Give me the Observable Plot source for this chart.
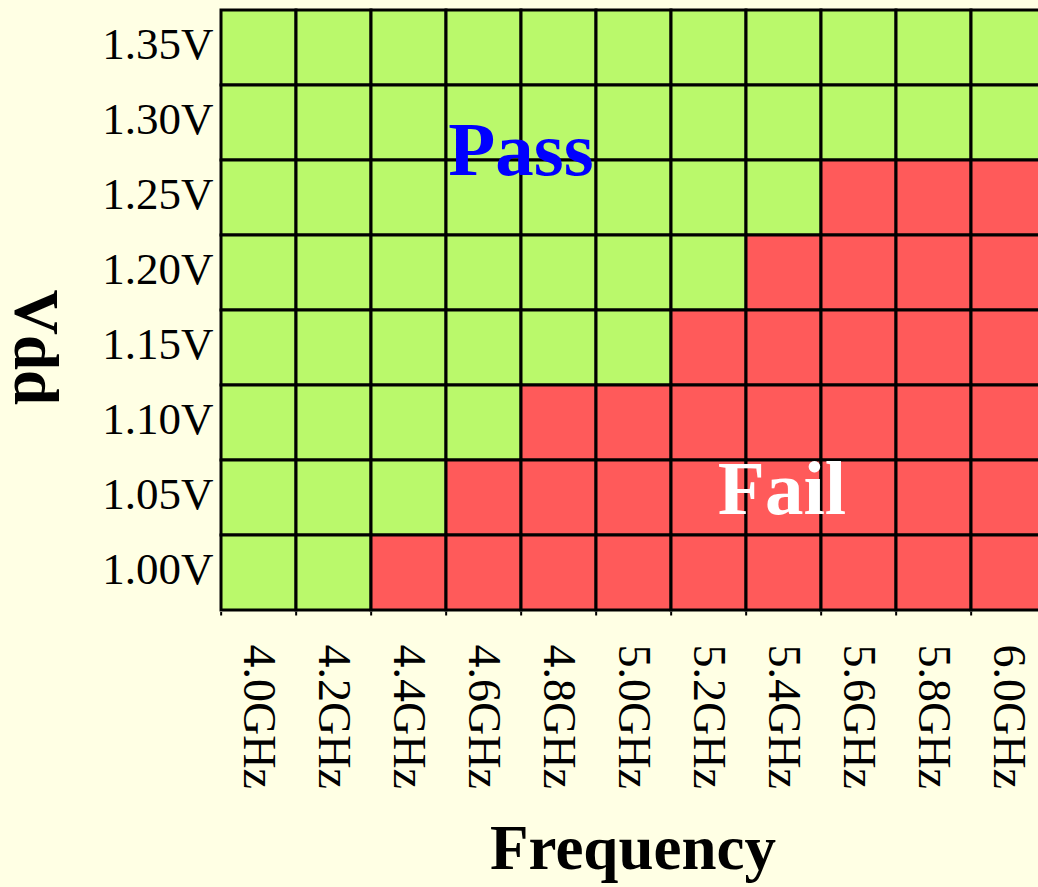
<!DOCTYPE html>
<html><head><meta charset="utf-8">
<script src="https://cdn.jsdelivr.net/npm/d3@7"></script>
<script src="https://cdn.jsdelivr.net/npm/@observablehq/plot@0.6"></script>
<style>
html,body{margin:0;padding:0;background:#ffffe4;overflow:hidden;}
#chart svg{overflow:hidden;}
</style></head><body><div id="chart"></div>
<script>
const frequencies = ["4.0GHz","4.2GHz","4.4GHz","4.6GHz","4.8GHz","5.0GHz","5.2GHz","5.4GHz","5.6GHz","5.8GHz","6.0GHz"];
const voltages = ["1.35V","1.30V","1.25V","1.20V","1.15V","1.10V","1.05V","1.00V"];
// P = pass, F = fail, one string per voltage row, one letter per frequency
const statusRows = [
  "PPPPPPPPPPP",
  "PPPPPPPPPPP",
  "PPPPPPPPFFF",
  "PPPPPPPFFFF",
  "PPPPPPFFFFF",
  "PPPPFFFFFFF",
  "PPPFFFFFFFF",
  "PPFFFFFFFFF"
];
const regionLabels = [
  {freq: "4.6GHz", volt: "1.30V", text: "Pass"},
  {freq: "5.4GHz", volt: "1.05V", text: "Fail"}
];

const cells = [];
voltages.forEach((v, i) => {
  frequencies.forEach((f, j) => {
    cells.push({freq: f, volt: v, status: statusRows[i][j]});
  });
});

const colW = 75.7;
const chart = Plot.plot({
  width: 1038,
  height: 887,
  marginLeft: 217,
  marginRight: 0,
  marginTop: 8,
  marginBottom: 275,
  style: {background: "#ffffe4", fontFamily: "'Liberation Serif', 'Times New Roman', serif", color: "black", overflow: "hidden"},
  x: {domain: frequencies, range: [217, 217 + 11 * colW], padding: 0, label: null},
  y: {domain: voltages, padding: 0, label: null},
  color: {domain: ["P", "F"], range: ["#baf96b", "#ff5a5a"]},
  marks: [
    Plot.cell(cells, {x: "freq", y: "volt", fill: "status", stroke: "black", strokeWidth: 3, inset: 0}),
    Plot.axisX({tickSize: 3.5, tickFormat: () => "", dx: -colW / 2, strokeWidth: 2, label: null}),
    Plot.axisY({tickSize: 0, tickPadding: 4, fontSize: 45, dy: -3, label: null}),
    Plot.axisX({tickSize: 0, tickPadding: 32, tickRotate: 90, fontSize: 46, label: null}),
    Plot.text(regionLabels.slice(0, 1), {x: "freq", y: "volt", text: "text", fill: "#0000ff", fontSize: 77, fontWeight: "bold", dx: 37, dy: 27}),
    Plot.text(regionLabels.slice(1), {x: "freq", y: "volt", text: "text", fill: "white", fontSize: 77, fontWeight: "bold", dx: -2, dy: -9}),
    Plot.text(["Vdd"], {frameAnchor: "left", text: d => d, rotate: 90, dx: -182, dy: -21, fontSize: 63, fontWeight: "bold", fill: "black"}),
    Plot.text(["Frequency"], {frameAnchor: "bottom", text: d => d, dx: 5, dy: 256, fontSize: 63, fontWeight: "bold", fill: "black"})
  ]
});
document.getElementById("chart").appendChild(chart);
</script></body></html>
